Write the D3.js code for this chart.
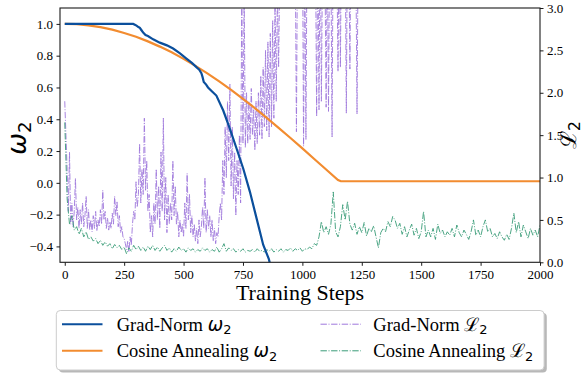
<!DOCTYPE html>
<html><head><meta charset="utf-8">
<script src="https://cdn.jsdelivr.net/npm/d3@7"></script>
<style>body{margin:0;background:#fff}svg{display:block}
.serif{font-family:"Liberation Serif","Times New Roman",Times,serif}
</style>
</head><body>
<script>
// ---------- data ----------
const xTicks = [0, 250, 500, 750, 1000, 1250, 1500, 1750, 2000];
const leftTicks = [-0.4, -0.2, 0.0, 0.2, 0.4, 0.6, 0.8, 1.0];
const rightTicks = [0.0, 0.5, 1.0, 1.5, 2.0, 2.5, 3.0];

// Grad-Norm omega_2 (left axis)
const gradNormOmegaSteps = [0, 100, 200, 288, 295, 302, 310, 316, 323, 330, 340, 350, 372, 400, 430, 456, 485, 512, 535, 554, 566, 575, 580, 585, 595, 603, 620, 638, 667, 695, 723, 751, 779, 807, 835, 859, 875];
const gradNormOmega = [1.0, 1.0, 1.0, 1.0, 0.995, 0.989, 0.98, 0.975, 0.96, 0.945, 0.93, 0.924, 0.903, 0.882, 0.865, 0.845, 0.815, 0.782, 0.755, 0.728, 0.712, 0.69, 0.665, 0.635, 0.618, 0.60, 0.575, 0.549, 0.455, 0.34, 0.216, 0.09, -0.055, -0.222, -0.389, -0.48, -0.58];

// Cosine Annealing omega_2 (left axis)
const cosineOmegaSteps = [0, 50, 100, 150, 200, 250, 300, 350, 400, 450, 500, 550, 600, 650, 700, 750, 800, 850, 900, 950, 1000, 1050, 1100, 1150, 1162, 2000];
const cosineOmega = [1.0, 0.998, 0.991, 0.980, 0.964, 0.943, 0.919, 0.890, 0.857, 0.821, 0.780, 0.736, 0.689, 0.638, 0.585, 0.528, 0.470, 0.409, 0.346, 0.282, 0.217, 0.150, 0.084, 0.018, 0.01, 0.01];

// Grad-Norm L_2 (right axis), one value every 5 steps from step 0
const gradNormLossStep = 5;
const gradNormLoss = [
  1.90, 1.50, 1.10, 0.60, 1.30, 0.45, 0.70, 0.42, 0.60, 0.99, 0.50, 0.65, 0.40, 0.62, 0.45, 0.70, 0.42, 0.55, 0.78, 0.40,
  0.62, 0.38, 0.50, 0.36, 0.55, 0.40, 0.60, 0.37, 0.50, 0.42, 0.62, 0.45, 0.85, 0.50, 0.60, 0.40, 0.52, 0.38, 0.48, 0.40,
  0.58, 0.45, 0.78, 0.55, 0.72, 0.42, 0.55, 0.35, 0.42, 0.30, 0.28, 0.22, 0.15, 0.25, 0.12, 0.30, 0.20, 0.45, 0.60, 0.50,
  0.95, 0.65, 0.80, 1.40, 0.70, 1.10, 0.80, 1.70, 0.85, 1.20, 0.60, 0.80, 0.35, 0.55, 0.30, 0.70, 0.45, 1.10, 0.50, 0.90,
  0.40, 1.30, 0.60, 1.70, 0.50, 1.00, 0.35, 0.80, 0.45, 0.70, 0.50, 1.20, 0.55, 0.90, 0.45, 0.60, 0.30, 0.50, 0.35, 0.45,
  0.30, 0.70, 0.40, 1.05, 0.50, 0.80, 0.35, 0.55, 0.30, 0.45, 0.25, 0.40, 0.22, 0.50, 0.30, 0.42, 0.65, 0.40, 1.00, 0.35,
  0.62, 0.40, 0.55, 0.30, 0.50, 0.25, 0.40, 0.22, 0.35, 0.30, 0.55, 0.70, 0.50, 1.20, 0.80, 1.60, 1.00, 1.90, 1.20, 2.10,
  0.90, 1.60, 0.75, 1.30, 0.55, 1.20, 0.80, 1.50, 0.70, 3.20, 1.40, 3.20, 1.35, 2.00, 1.40, 1.90, 1.45, 2.05, 1.50, 1.80,
  1.32, 1.90, 1.40, 2.00, 1.50, 2.20, 1.45, 2.30, 1.60, 2.50, 1.55, 2.60, 1.48, 2.70, 1.60, 2.85, 1.70, 3.10, 1.90, 3.20,
  2.30, 3.50, 3.60, 4.00, 3.40, 4.20, 3.80, 4.50, 3.50, 4.10, 3.70, 4.40, 3.90, 4.00, 3.60, 1.54, 4.00, 3.60, 4.20, 3.90,
  4.10, 1.37, 3.80, 1.45, 4.00, 3.70, 4.30, 3.90, 4.10, 3.60, 4.00, 3.80, 1.72, 3.90, 1.80, 4.10, 1.90, 3.70, 4.00, 3.50,
  1.83, 3.80, 1.78, 4.00, 3.60, 1.48, 4.20, 3.80, 4.00, 3.60, 2.25, 3.90, 2.30, 4.10, 3.70, 4.00, 3.80, 1.76, 4.20, 3.90,
  2.28, 4.00, 3.70, 4.10, 3.90, 3.60, 1.75, 3.80
];

// Cosine Annealing L_2 (right axis), one value every 10 steps from step 0
const cosineLossStep = 10;
const cosineLoss = [
  1.65, 0.75, 0.45, 0.55, 0.38, 0.42, 0.33, 0.40, 0.30, 0.36,
  0.27, 0.30, 0.25, 0.28, 0.22, 0.26, 0.20, 0.24, 0.19, 0.22,
  0.16, 0.21, 0.17, 0.20, 0.15, 0.18, 0.10, 0.17, 0.13, 0.20,
  0.15, 0.19, 0.14, 0.18, 0.13, 0.19, 0.15, 0.20, 0.14, 0.18,
  0.13, 0.17, 0.20, 0.14, 0.17, 0.12, 0.16, 0.13, 0.18, 0.14,
  0.16, 0.12, 0.17, 0.14, 0.16, 0.12, 0.15, 0.13, 0.17, 0.14,
  0.16, 0.12, 0.15, 0.13, 0.18, 0.12, 0.16, 0.22, 0.13, 0.17,
  0.14, 0.16, 0.12, 0.15, 0.13, 0.16, 0.12, 0.14, 0.13, 0.15,
  0.12, 0.16, 0.13, 0.14, 0.12, 0.15, 0.13, 0.16, 0.12, 0.15,
  0.13, 0.16, 0.12, 0.15, 0.14, 0.17, 0.13, 0.16, 0.14, 0.17,
  0.13, 0.16, 0.15, 0.18, 0.16, 0.22, 0.20, 0.30, 0.48, 0.35,
  0.42, 0.33, 0.45, 0.83, 0.36, 0.30, 0.42, 0.68, 0.50, 0.72,
  0.45, 0.38, 0.46, 0.33, 0.42, 0.35, 0.47, 0.31, 0.40, 0.36,
  0.43, 0.30, 0.17, 0.35, 0.40, 0.36, 0.48, 0.42, 0.54, 0.50,
  0.40, 0.46, 0.33, 0.42, 0.30, 0.38, 0.45, 0.32, 0.40, 0.28,
  0.36, 0.60, 0.30, 0.38, 0.30, 0.40, 0.27, 0.45, 0.34, 0.38,
  0.30, 0.36, 0.32, 0.40, 0.30, 0.44, 0.35, 0.30, 0.38, 0.33,
  0.27, 0.36, 0.50, 0.32, 0.38, 0.30, 0.42, 0.50, 0.36, 0.40,
  0.30, 0.34, 0.28, 0.36, 0.30, 0.26, 0.33, 0.27, 0.40, 0.58,
  0.35, 0.48, 0.30, 0.44, 0.36, 0.28, 0.40, 0.32, 0.38, 0.30,
  0.44
];

const legendLabels = [
  {name: "Grad-Norm ", sym: "ω", color: "#0b4f9c", dash: null},
  {name: "Cosine Annealing ", sym: "ω", color: "#f28c30", dash: null},
  {name: "Grad-Norm ", sym: "ℒ", color: "#9f78dc", dash: "6.4,1.6,1,1.6"},
  {name: "Cosine Annealing ", sym: "ℒ", color: "#3a9c78", dash: "6.4,1.6,1,1.6"}
];

// ---------- drawing ----------
const W = 587, H = 375;
const L = 60, R = 540, T = 8, B = 262.3;
const svg = d3.select("body").append("svg").attr("width", W).attr("height", H);

const x = d3.scaleLinear().domain([-20, 2000]).range([L, R]);
const yL = d3.scaleLinear().domain([-0.5, 1.1]).range([B, T]);
const yR = d3.scaleLinear().domain([0, 3]).range([B, T]);

svg.append("clipPath").attr("id", "clip").append("rect")
  .attr("x", L).attr("y", T).attr("width", R - L).attr("height", B - T);
const plot = svg.append("g").attr("clip-path", "url(#clip)");

const dashDot = "6.4,1.6,1,1.6";
const lineR = d3.line().x(d => x(d[0])).y(d => yR(d[1]));
const lineL = d3.line().x(d => x(d[0])).y(d => yL(d[1]));

plot.append("path").datum(gradNormLoss.map((v, i) => [i * gradNormLossStep, v]))
  .attr("d", lineR).attr("fill", "none").attr("stroke", "#9f78dc").attr("stroke-width", 1)
  .attr("stroke-dasharray", dashDot).attr("stroke-opacity", 0.9);
plot.append("path").datum(cosineLoss.map((v, i) => [i * cosineLossStep, v]))
  .attr("d", lineR).attr("fill", "none").attr("stroke", "#3a9c78").attr("stroke-width", 1)
  .attr("stroke-dasharray", dashDot).attr("stroke-opacity", 0.9);
plot.append("path").datum(cosineOmegaSteps.map((s, i) => [s, cosineOmega[i]]))
  .attr("d", lineL).attr("fill", "none").attr("stroke", "#f28c30").attr("stroke-width", 2.2);
plot.append("path").datum(gradNormOmegaSteps.map((s, i) => [s, gradNormOmega[i]]))
  .attr("d", lineL).attr("fill", "none").attr("stroke", "#0b4f9c").attr("stroke-width", 2.2);

// axes
const fmt1 = d => d3.format(".1f")(d).replace("-", "−");
function styleAxis(g) {
  g.attr("font-family", null).attr("font-size", null);
  g.selectAll("text").attr("class", "serif").style("font-size", "13px").attr("fill", "#000");
  g.selectAll("line").attr("stroke", "#000").attr("stroke-width", 0.9);
  g.select(".domain").remove();
}
svg.append("g").attr("transform", `translate(0,${B})`)
  .call(d3.axisBottom(x).tickValues(xTicks).tickFormat(d3.format("d")).tickSize(3.5).tickPadding(3.5))
  .call(styleAxis);
svg.append("g").attr("transform", `translate(${L},0)`)
  .call(d3.axisLeft(yL).tickValues(leftTicks).tickFormat(fmt1).tickSize(3.5).tickPadding(3.5))
  .call(styleAxis);
svg.append("g").attr("transform", `translate(${R},0)`)
  .call(d3.axisRight(yR).tickValues(rightTicks).tickFormat(fmt1).tickSize(3.5).tickPadding(3.5))
  .call(styleAxis);

// frame
svg.append("rect").attr("x", L).attr("y", T).attr("width", R - L).attr("height", B - T)
  .attr("fill", "none").attr("stroke", "#1a1a1a").attr("stroke-width", 1.1);

// axis labels
svg.append("text").attr("class", "serif").attr("x", (L + R) / 2).attr("y", 300).attr("text-anchor", "middle")
  .style("font-size", "22px").text("Training Steps");

function symLabel(sel, sym, size) {
  const isL = sym === "ℒ";
  sel.append("tspan").style("font-family", isL ? "\"Liberation Serif\", serif" : "\"DejaVu Sans\", sans-serif")
    .style("font-style", isL ? "normal" : "italic").text(sym);
  sel.append("tspan").style("font-family", "\"DejaVu Sans\", sans-serif").style("font-style", "normal")
    .style("font-size", (size * 0.7) + "px")
    .attr("dy", size * 0.2).text("2");
}
const yl = svg.append("text").attr("text-anchor", "middle").style("font-size", "26px")
  .attr("transform", `translate(26,138) rotate(-90)`);
symLabel(yl, "ω", 26);
const yr = svg.append("text").attr("text-anchor", "middle").style("font-size", "22px")
  .attr("transform", `translate(576,135) rotate(-90)`);
symLabel(yr, "ℒ", 22);

// legend
const lg = svg.append("g");
lg.append("rect").attr("x", 59).attr("y", 313).attr("width", 487.8).attr("height", 59.5)
  .attr("rx", 4).attr("fill", "#888").attr("fill-opacity", 0.6);
lg.append("rect").attr("x", 56.3).attr("y", 310.5).attr("width", 487.8).attr("height", 59.5)
  .attr("rx", 4).attr("fill", "#fff").attr("stroke", "#cccccc").attr("stroke-width", 1);
const colX = [62, 320.5], textX = [116.7, 373.3], rowY = [324.2, 350.8];
legendLabels.forEach((d, i) => {
  const c = Math.floor(i / 2), r = i % 2;
  lg.append("line").attr("x1", colX[c]).attr("x2", colX[c] + 40.5).attr("y1", rowY[r]).attr("y2", rowY[r])
    .attr("stroke", d.color).attr("stroke-width", d.dash ? 1 : 2)
    .attr("stroke-dasharray", d.dash);
  const t = lg.append("text").attr("class", "serif").attr("x", textX[c]).attr("y", rowY[r] + 6.5)
    .style("font-size", "18.5px");
  t.append("tspan").text(d.name);
  symLabel(t, d.sym, 18.5);
});
</script>
</body></html>
